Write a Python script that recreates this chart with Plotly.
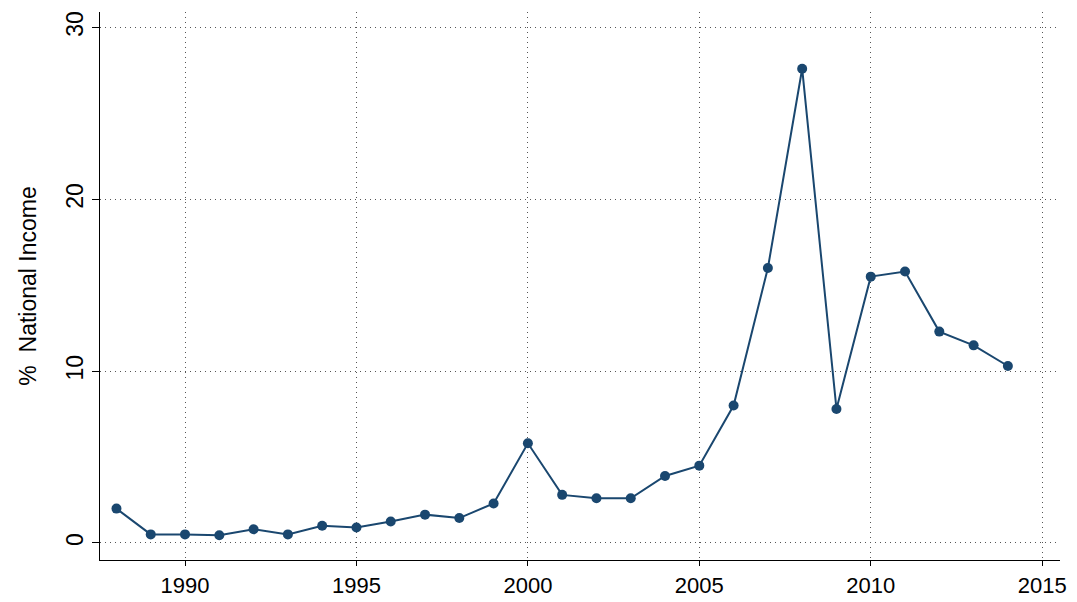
import plotly.graph_objects as go

years = list(range(1988, 2015))
share = [2.0, 0.5, 0.5, 0.45, 0.8, 0.5, 1.0, 0.9, 1.25, 1.65, 1.45, 2.3, 5.8,
         2.8, 2.6, 2.6, 3.9, 4.5, 8.0, 16.0, 27.6, 7.8, 15.5, 15.8, 12.3, 11.5, 10.3]
x_ticks = [1990, 1995, 2000, 2005, 2010, 2015]
y_ticks = [0, 10, 20, 30]

color = '#1a476f'

fig = go.Figure(go.Scatter(
    x=years, y=share, mode='lines+markers',
    line=dict(color=color, width=2),
    marker=dict(color=color, size=10),
))

grid = dict(showgrid=True, gridcolor='#555555', griddash='1px,4px', gridwidth=1,
            showline=True, linecolor='black', linewidth=1.2, automargin=False,
            ticks='outside', tickcolor='black', zeroline=False)

# page body adds an 8px margin, so the figure is sized to fit inside it
fig.update_layout(
    width=1061, height=594,
    paper_bgcolor='white', plot_bgcolor='white',
    font=dict(family='Liberation Sans, Arial, sans-serif', color='black'),
    showlegend=False,
    margin=dict(l=92, r=9, t=4, b=42),
    xaxis=dict(range=[1987.52, 2015.52], tickvals=x_ticks, ticklen=5,
               tickfont=dict(size=22, color='black'), **grid),
    yaxis=dict(range=[-0.99, 30.9], tickvals=y_ticks, tickangle=-90, ticklen=7,
               tickfont=dict(size=23, color='black'),
               title=dict(text='%  National Income', font=dict(size=23), standoff=18),
               **grid),
)

fig.write_html('out.html')
